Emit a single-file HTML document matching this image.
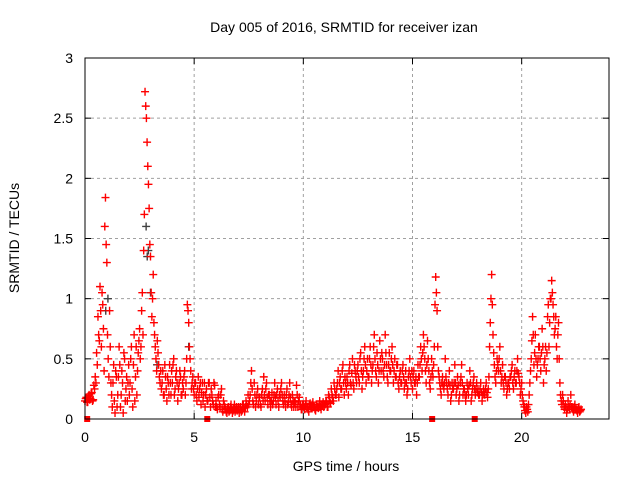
<!DOCTYPE html>
<html><head><meta charset="utf-8"><style>
body{margin:0;background:#fff}
svg text{font-family:"Liberation Sans",sans-serif;font-size:14px;fill:#000}
</style></head><body>
<svg id="chart" width="640" height="480">
<text x="344" y="32" text-anchor="middle">Day 005 of 2016, SRMTID for receiver izan</text>
<text x="346" y="471" text-anchor="middle">GPS time / hours</text>
<text transform="translate(19,238) rotate(-90)" text-anchor="middle">SRMTID / TECUs</text>
<g id="grid"></g><g id="marks"></g><g id="axes"></g>
</svg>
<script>
const xTicks=[0,5,10,15,20];
const yTicks=[0,0.5,1,1.5,2,2.5,3];
const yTickLabels=["0","0.5","1","1.5","2","2.5","3"];
const timeStep=0.0625;
const srmtid=[0.15,0.18,0.14,0.2,0.17,0.22,0.16,0.25,
0.3,0.45,0.7,1.1,0.6,0.95,0.4,1.84,
1.3,0.5,0.9,0.3,0.1,0.45,0.05,0.35,
0.2,0.6,0.1,0.4,0.05,0.5,0.25,0.15,
0.45,0.3,0.6,0.1,0.7,0.35,0.2,0.55,
0.75,0.6,1.05,1.4,2.72,2.5,2.1,1.75,
1.35,0.85,1.2,0.7,0.5,0.65,0.45,0.3,
0.25,0.4,0.2,0.35,0.15,0.3,0.45,0.2,
0.3,0.5,0.25,0.4,0.15,0.3,0.35,0.2,
0.25,0.4,0.3,0.95,0.8,0.5,0.25,0.35,
0.2,0.3,0.15,0.35,0.25,0.12,0.3,0.2,
0.1,0.25,0.15,0.3,0.1,0.2,0.12,0.28,
0.15,0.08,0.2,0.1,0.25,0.06,0.12,0.08,
0.05,0.1,0.07,0.12,0.05,0.09,0.06,0.1,
0.08,0.05,0.1,0.07,0.12,0.06,0.15,0.1,
0.12,0.2,0.4,0.15,0.3,0.1,0.2,0.12,
0.18,0.1,0.25,0.35,0.15,0.3,0.12,0.2,
0.1,0.22,0.15,0.3,0.12,0.25,0.1,0.18,
0.3,0.15,0.2,0.1,0.25,0.14,0.3,0.12,
0.2,0.1,0.15,0.28,0.1,0.18,0.12,0.08,
0.12,0.08,0.15,0.1,0.06,0.13,0.09,0.14,
0.1,0.07,0.12,0.09,0.15,0.08,0.11,0.1,
0.12,0.15,0.1,0.18,0.13,0.2,0.15,0.25,
0.2,0.3,0.18,0.35,0.25,0.45,0.2,0.3,
0.35,0.2,0.45,0.28,0.5,0.25,0.4,0.3,
0.45,0.3,0.55,0.25,0.4,0.6,0.3,0.5,
0.35,0.6,0.3,0.45,0.7,0.4,0.55,0.3,
0.65,0.4,0.5,0.35,0.7,0.45,0.3,0.55,
0.4,0.6,0.3,0.5,0.35,0.45,0.25,0.4,
0.3,0.45,0.25,0.4,0.2,0.35,0.5,0.3,
0.25,0.4,0.3,0.2,0.45,0.35,0.6,0.4,
0.7,0.5,0.3,0.65,0.4,0.25,0.5,0.35,
0.6,1.18,0.9,0.4,0.3,0.2,0.35,0.25,
0.5,0.3,0.2,0.4,0.15,0.3,0.25,0.45,
0.2,0.35,0.15,0.3,0.45,0.2,0.25,0.15,
0.3,0.2,0.4,0.15,0.25,0.35,0.2,0.3,
0.25,0.2,0.3,0.15,0.25,0.2,0.3,0.18,
0.35,0.8,1.2,0.7,0.45,0.3,0.5,0.4,
0.6,0.3,0.45,0.25,0.35,0.2,0.3,0.25,
0.35,0.45,0.25,0.4,0.3,0.5,0.35,0.2,
0.3,0.15,0.1,0.05,0.08,0.12,0.3,0.5,
0.85,0.45,0.7,0.35,0.5,0.6,0.4,0.75,
0.3,0.5,0.4,0.85,0.6,1.0,1.15,0.95,
0.7,0.85,0.5,0.8,0.3,0.15,0.2,0.1,
0.12,0.05,0.15,0.08,0.2,0.1,0.06,0.12,
0.08,0.05,0.1,0.07];
const srmtidB=[0.17,0.14,0.19,0.16,0.21,0.15,0.28,0.35,
0.55,0.85,0.65,0.9,1.05,0.75,1.6,1.45,
0.7,0.35,0.6,0.2,0.3,0.15,0.4,0.1,
0.35,0.45,0.2,0.3,0.55,0.15,0.35,0.3,
0.2,0.5,0.25,0.45,0.15,0.6,0.4,0.65,
0.5,0.9,0.7,1.7,2.6,2.3,1.95,1.45,
1.05,1.0,0.8,0.6,0.4,0.55,0.35,0.4,
0.3,0.2,0.45,0.25,0.35,0.2,0.3,0.4,
0.45,0.2,0.35,0.3,0.25,0.4,0.2,0.3,
0.35,0.2,0.5,0.9,0.6,0.4,0.3,0.25,
0.3,0.2,0.25,0.18,0.3,0.22,0.15,0.3,
0.2,0.15,0.3,0.18,0.25,0.15,0.3,0.1,
0.1,0.18,0.12,0.2,0.08,0.15,0.1,0.06,
0.08,0.06,0.1,0.08,0.07,0.12,0.08,0.07,
0.1,0.08,0.06,0.12,0.09,0.1,0.12,0.2,
0.15,0.3,0.25,0.12,0.2,0.15,0.25,0.18,
0.12,0.2,0.15,0.2,0.25,0.18,0.2,0.15,
0.15,0.12,0.2,0.18,0.2,0.15,0.2,0.25,
0.2,0.12,0.15,0.2,0.12,0.2,0.18,0.1,
0.15,0.14,0.1,0.2,0.15,0.12,0.08,0.12,
0.1,0.12,0.1,0.08,0.12,0.1,0.12,0.1,
0.08,0.12,0.1,0.12,0.1,0.12,0.14,0.12,
0.15,0.1,0.2,0.14,0.25,0.18,0.3,0.2,
0.25,0.4,0.3,0.25,0.4,0.3,0.35,0.25,
0.3,0.4,0.3,0.38,0.3,0.45,0.35,0.4,
0.35,0.5,0.4,0.35,0.5,0.45,0.4,0.35,
0.5,0.45,0.4,0.6,0.5,0.35,0.45,0.4,
0.5,0.55,0.4,0.45,0.55,0.35,0.45,0.4,
0.5,0.45,0.4,0.35,0.45,0.3,0.35,0.3,
0.4,0.35,0.3,0.3,0.25,0.4,0.35,0.4,
0.35,0.3,0.35,0.3,0.35,0.45,0.5,0.55,
0.6,0.4,0.45,0.5,0.3,0.35,0.4,0.45,
0.95,1.05,0.6,0.35,0.25,0.3,0.28,0.3,
0.35,0.25,0.3,0.28,0.2,0.25,0.3,0.3,
0.25,0.28,0.2,0.35,0.3,0.25,0.2,0.2,
0.25,0.28,0.3,0.2,0.3,0.25,0.25,0.22,
0.2,0.25,0.22,0.2,0.22,0.25,0.22,0.25,
0.6,1.0,0.95,0.55,0.35,0.4,0.45,0.5,
0.4,0.35,0.3,0.35,0.3,0.25,0.3,0.35,
0.4,0.3,0.35,0.3,0.4,0.38,0.3,0.25,
0.2,0.12,0.07,0.1,0.06,0.2,0.4,0.65,
0.7,0.55,0.5,0.45,0.6,0.5,0.55,0.6,
0.45,0.6,0.55,0.95,0.8,1.0,1.05,0.85,
0.75,0.6,0.7,0.5,0.2,0.12,0.15,0.08,
0.1,0.08,0.1,0.12,0.1,0.08,0.1,0.08,
0.07,0.09,0.06,0.08];
const darkTimes=[0.95,1.05,2.8,2.85,2.9,3.0,4.75,3.3];
const darkValues=[0.9,1.0,1.6,1.35,1.4,1.05,0.6,0.45];
const zeroTimes=[0.1,5.6,15.9,17.85];

const X0=85,X1=609,Y0=419,Y1=58,XMAX=24,YMAX=3;
const sx=t=>X0+t*(X1-X0)/XMAX;
const sy=v=>Y0-v*(Y0-Y1)/YMAX;
const NS="http://www.w3.org/2000/svg";
function mk(tag,attrs,parent){const e=document.createElementNS(NS,tag);for(const k in attrs)e.setAttribute(k,attrs[k]);parent.appendChild(e);return e;}
const grid=document.getElementById('grid'),marks=document.getElementById('marks'),axes=document.getElementById('axes');
xTicks.forEach(t=>{
  if(t>0){const g=mk('line',{x1:sx(t),x2:sx(t),y1:Y0,y2:Y1,stroke:'#a0a0a0','stroke-dasharray':'3,3'},grid);
  
  }
  mk('line',{x1:sx(t),x2:sx(t),y1:Y0,y2:Y0-6,stroke:'#000'},axes);
  mk('line',{x1:sx(t),x2:sx(t),y1:Y1,y2:Y1+6,stroke:'#000'},axes);
  const l=mk('text',{x:sx(t),y:Y0+23,'text-anchor':'middle'},axes);l.textContent=t;
  
  
});
yTicks.forEach((v,i)=>{
  if(v>0&&v<YMAX){const g=mk('line',{x1:X0,x2:X1,y1:sy(v),y2:sy(v),stroke:'#a0a0a0','stroke-dasharray':'3,3'},grid);
  
  }
  mk('line',{x1:X0,x2:X0+6,y1:sy(v),y2:sy(v),stroke:'#000'},axes);
  mk('line',{x1:X1,x2:X1-6,y1:sy(v),y2:sy(v),stroke:'#000'},axes);
  const l=mk('text',{x:X0-12,y:sy(v)+5,'text-anchor':'end'},axes);l.textContent=yTickLabels[i];
  
  
});
const frame=mk('rect',{x:X0,y:Y1,width:X1-X0,height:Y0-Y1,fill:'none',stroke:'#000'},axes);


function plus(t,v,color,name){
  const x=sx(t),y=sy(v);
  const p=mk('path',{d:`M${x-4},${y}H${x+4}M${x},${y-4}V${y+4}`,stroke:color,'stroke-width':1.4,fill:'none'},marks);
  
  
}
darkValues.forEach((v,i)=>plus(darkTimes[i],v,'#404040','dark-point'));
srmtid.forEach((v,i)=>plus(i*timeStep,v,'#ff0000','srmtid-point'));
srmtidB.forEach((v,i)=>plus(i*timeStep+timeStep/2,v,'#ff0000','srmtid-point'));
zeroTimes.forEach(t=>{
  const r=mk('rect',{x:sx(t)-3,y:Y0-3,width:6,height:6,fill:'#ff0000'},marks);
  
  
});
</script>
</body></html>
